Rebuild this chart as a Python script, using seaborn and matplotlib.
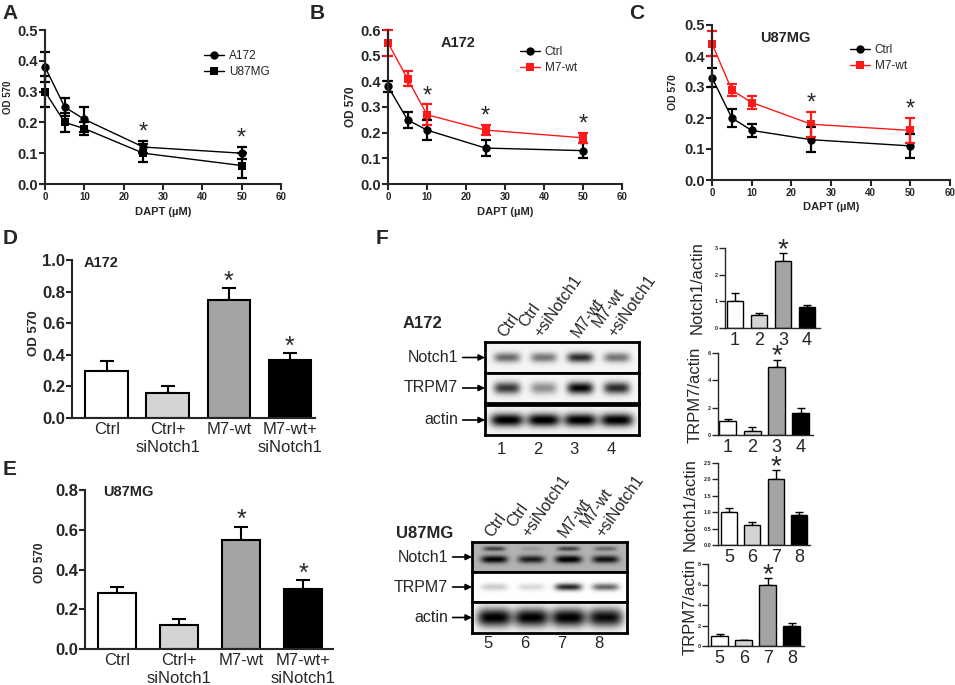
import numpy as np
import pandas as pd
import matplotlib
matplotlib.use('Agg')
import matplotlib.pyplot as plt
import seaborn as sns

# ---------------- data ----------------
dapt = [0, 5, 10, 25, 50]

a_a172 = [0.38, 0.25, 0.21, 0.12, 0.10]
a_a172_err = [0.05, 0.03, 0.04, 0.02, 0.02]
a_u87 = [0.30, 0.20, 0.18, 0.10, 0.06]
a_u87_err = [0.05, 0.03, 0.02, 0.03, 0.04]
a_stars = [25, 50]

b_ctrl = [0.38, 0.25, 0.21, 0.14, 0.13]
b_ctrl_err = [0.02, 0.03, 0.04, 0.03, 0.03]
b_m7 = [0.55, 0.41, 0.27, 0.21, 0.18]
b_m7_err = [0.05, 0.03, 0.04, 0.02, 0.02]
b_stars = [10, 25, 50]

c_ctrl = [0.33, 0.20, 0.16, 0.13, 0.11]
c_ctrl_err = [0.03, 0.03, 0.02, 0.04, 0.04]
c_m7 = [0.44, 0.29, 0.25, 0.18, 0.16]
c_m7_err = [0.04, 0.02, 0.02, 0.04, 0.04]
c_stars = [25, 50]

groups = ['Ctrl', 'Ctrl+\nsiNotch1', 'M7-wt', 'M7-wt+\nsiNotch1']
d_od = [0.30, 0.16, 0.75, 0.37]
d_err = [0.06, 0.04, 0.07, 0.04]
e_od = [0.28, 0.12, 0.55, 0.30]
e_err = [0.03, 0.03, 0.065, 0.045]
de_stars = [2, 3]

blot_lanes = ['Ctrl', 'Ctrl\n+siNotch1', 'M7-wt', 'M7-wt\n+siNotch1']
a172_notch1_band = [0.55, 0.50, 0.80, 0.50]
a172_trpm7_band = [0.75, 0.40, 0.95, 0.80]
a172_actin_band = [1.0, 1.0, 1.0, 1.0]
u87_notch1_band = [0.70, 0.60, 0.75, 0.65]
u87_notch1_upper = [0.45, 0.10, 0.45, 0.30]
u87_trpm7_band = [0.20, 0.15, 0.85, 0.60]
u87_actin_band = [1.0, 1.0, 1.0, 0.95]

lanes_a172 = ['1', '2', '3', '4']
lanes_u87 = ['5', '6', '7', '8']
f_a172_notch1 = [1.0, 0.48, 2.5, 0.78]
f_a172_notch1_err = [0.3, 0.1, 0.3, 0.07]
f_a172_trpm7 = [1.0, 0.3, 5.0, 1.6]
f_a172_trpm7_err = [0.15, 0.3, 0.5, 0.35]
f_u87_notch1 = [1.0, 0.6, 2.0, 0.92]
f_u87_notch1_err = [0.12, 0.1, 0.28, 0.1]
f_u87_trpm7 = [1.0, 0.55, 6.0, 2.0]
f_u87_trpm7_err = [0.2, 0.05, 0.6, 0.2]
f_star = 2

bar_colors = ['#ffffff', '#d4d4d4', '#a3a3a8', '#000000']

# ---------------- style ----------------
sns.set_style('ticks')
plt.rcParams['font.family'] = ['Liberation Sans', 'DejaVu Sans']
plt.rcParams['axes.linewidth'] = 1.5

W, H = 955, 685
fig = plt.figure(figsize=(W / 100, H / 100), dpi=100)


def px(x, y):
    return x / W, 1 - y / H


def axes_px(x0, y0, x1, y1):
    return fig.add_axes([x0 / W, 1 - y1 / H, (x1 - x0) / W, (y1 - y0) / H])


def ftext(x, y, s, **kw):
    fig.text(*px(x, y), s, **kw)


def line_panel(box, series, ymax, stars, leg_xy, title=None, title_xy=None,
               ylab_xy=None, ylab_size=7.5):
    ax = axes_px(*box)
    rows = []
    for name, ys, es, color, marker in series:
        for d, v in zip(dapt, ys):
            rows.append({'dose': d, 'od': v, 'group': name})
    df = pd.DataFrame(rows)
    names = [s[0] for s in series]
    sns.lineplot(data=df, x='dose', y='od', hue='group', style='group',
                 hue_order=names, style_order=names,
                 palette={s[0]: s[3] for s in series},
                 markers={s[0]: s[4] for s in series}, dashes=False,
                 markersize=6, linewidth=1, markeredgewidth=0, ax=ax)
    tops = np.zeros(len(dapt))
    for name, ys, es, color, marker in series:
        ax.errorbar(dapt, ys, yerr=es, fmt='none', ecolor=color, capsize=3.5,
                    elinewidth=1.6, capthick=1.6, clip_on=False)
        tops = np.maximum(tops, np.array(ys) + np.array(es))
    for l in ax.lines:
        l.set_clip_on(False)
    for s in stars:
        i = dapt.index(s)
        ax.annotate('*', xy=(s, tops[i]), xytext=(0, -2), textcoords='offset points',
                    ha='center', va='bottom', fontsize=17)
    ax.set_xlim(0, 60)
    ax.set_ylim(0, ymax)
    ax.set_xticks(range(0, 61, 10))
    ax.set_yticks(np.arange(0, ymax + 0.001, 0.1))
    ax.yaxis.set_major_formatter('{x:.1f}')
    ax.tick_params(axis='y', labelsize=10.5, width=1.5, length=4, pad=1)
    ax.tick_params(axis='x', labelsize=7, width=1.5, length=4, pad=2)
    for lab in ax.get_xticklabels() + ax.get_yticklabels():
        lab.set_fontweight('bold')
    ax.set_xlabel('DAPT (µM)', fontsize=8, fontweight='bold', labelpad=3)
    ax.set_ylabel('')
    sns.despine(ax=ax)
    h, lb = ax.get_legend_handles_labels()
    ax.legend(h, lb, loc='upper left', bbox_to_anchor=px(*leg_xy),
              bbox_transform=fig.transFigure, frameon=False, fontsize=8.5,
              handlelength=1.7, labelspacing=0.35, borderaxespad=0,
              handletextpad=0.4, borderpad=0)
    if title:
        ftext(*title_xy, title, fontsize=10.5, fontweight='bold', ha='center', va='center')
    ftext(*ylab_xy, 'OD 570', fontsize=ylab_size, fontweight='bold', rotation=90,
          ha='center', va='center')
    return ax


def bar_panel(box, names, vals, errs, xlim, ylim, yticks, fmt='{x:.1f}', width=0.7,
              lw=1.5, cap=5, ytick_size=12, xtick_size=12, xtick_bold=False,
              stars=(), star_size=18, star_off=-4):
    ax = axes_px(*box)
    df = pd.DataFrame({'grp': names, 'val': vals})
    sns.barplot(data=df, x='grp', y='val', hue='grp', palette=bar_colors,
                edgecolor='black', linewidth=lw, width=width, legend=False,
                errorbar=None, ax=ax)
    ax.errorbar(range(len(vals)), vals, yerr=[np.zeros(len(vals)), errs], fmt='none',
                ecolor='black', capsize=cap, elinewidth=lw, capthick=lw, zorder=0.5)
    for i in stars:
        ax.annotate('*', xy=(i, vals[i] + errs[i]), xytext=(0, star_off),
                    textcoords='offset points', ha='center', va='bottom',
                    fontsize=star_size)
    ax.set_xlim(*xlim)
    ax.set_ylim(*ylim)
    ax.set_yticks(yticks)
    ax.yaxis.set_major_formatter(fmt)
    ax.set_xlabel('')
    ax.set_ylabel('')
    ax.tick_params(axis='y', labelsize=ytick_size, width=lw, length=4, pad=1)
    ax.tick_params(axis='x', labelsize=xtick_size, length=0, pad=3)
    for lab in ax.get_yticklabels():
        lab.set_fontweight('bold')
    if xtick_bold:
        for lab in ax.get_xticklabels():
            lab.set_fontweight('bold')
    for s in ax.spines.values():
        s.set_linewidth(lw)
    sns.despine(ax=ax)
    return ax


def blot_strip(box, dark, bg=0.04, yc=0.5, hh=0.16, ww=0.36, upper=None):
    ax = axes_px(*box)
    xs = np.linspace(0.4, 4.6, 320)
    ys = np.linspace(0, 1, 60)
    img = np.full((60, 320), bg)
    lane_pos = np.arange(1, len(dark) + 1)
    for lane, d in zip(lane_pos, dark):
        img += d * np.outer(np.exp(-((ys - yc) / hh) ** 2),
                            np.exp(-((xs - lane) / ww) ** 4))
    if upper is not None:
        for lane, d in zip(lane_pos, upper):
            img += d * np.outer(np.exp(-((ys - 0.78) / 0.08) ** 2),
                                np.exp(-((xs - lane) / 0.3) ** 4))
    ax.imshow(np.clip(img, 0, 1), cmap='gray_r', vmin=0, vmax=1,
              extent=[0.4, 4.6, 0, 1], aspect='auto', origin='lower')
    ax.set_xticks([])
    ax.set_yticks([])
    for s in ax.spines.values():
        s.set_visible(True)
        s.set_linewidth(2)
        s.set_color('black')
    return ax


def row_label(ax, text, off):
    ax.annotate(text, xy=(0.0, 0.5), xycoords='axes fraction', xytext=(-off, 0),
                textcoords='offset pixels', ha='right', va='center', fontsize=11.5,
                arrowprops=dict(arrowstyle='-|>', color='black', lw=1.2,
                                mutation_scale=9, shrinkA=1, shrinkB=0))


def blot_block(x0, x1, rows, name, name_xy, lane_nums, num_y, top_y, arrow_off):
    axs = []
    for (y0, y1, text, kw) in rows:
        ax = blot_strip((x0, y0, x1, y1), **kw)
        row_label(ax, text, arrow_off)
        axs.append(ax)
    ftext(*name_xy, name, fontsize=12, fontweight='bold', ha='center', va='center')
    for i, lab in enumerate(blot_lanes):
        lx = x0 + (i + 1 - 0.4) / 4.2 * (x1 - x0)
        lines = lab.split('\n')
        n = len(lines)
        for j, ln in enumerate(lines):
            k = n - 1 - j
            ftext(lx - 2 - 15 * k, top_y - 4 - 10 * k, ln, fontsize=11.5, rotation=55,
                  rotation_mode='anchor', ha='left', va='baseline')
        ftext(lx - 6, num_y, lane_nums[i], fontsize=12, ha='center', va='center')
    return axs


# ---------------- panels A-C ----------------
line_panel((45, 30, 281, 184),
           [('A172', a_a172, a_a172_err, 'black', 'o'),
            ('U87MG', a_u87, a_u87_err, 'black', 's')],
           0.5, a_stars, (204, 50), ylab_xy=(8, 97), ylab_size=7)
line_panel((388, 30, 622, 184),
           [('Ctrl', b_ctrl, b_ctrl_err, 'black', 'o'),
            ('M7-wt', b_m7, b_m7_err, '#ff1a1a', 's')],
           0.6, b_stars, (520, 46), title='A172', title_xy=(458, 43),
           ylab_xy=(351, 107), ylab_size=8.5)
line_panel((712, 25, 950, 180),
           [('Ctrl', c_ctrl, c_ctrl_err, 'black', 'o'),
            ('M7-wt', c_m7, c_m7_err, '#ff1a1a', 's')],
           0.5, c_stars, (850, 44), title='U87MG', title_xy=(785, 38),
           ylab_xy=(673, 92), ylab_size=7.5)

# ---------------- panels D, E ----------------
axd = bar_panel((72, 260, 315, 418), groups, d_od, d_err, (-0.57, 3.41), (0, 1.0),
                np.arange(0, 1.01, 0.2), stars=de_stars)
ftext(84, 263, 'A172', fontsize=10.5, fontweight='bold', ha='left', va='center')
ftext(34, 333, 'OD 570', fontsize=9.5, fontweight='bold', rotation=90, ha='center', va='center')

axe = bar_panel((85, 490, 333, 649), groups, e_od, e_err, (-0.52, 3.48), (0, 0.8),
                np.arange(0, 0.81, 0.2), width=0.62, stars=de_stars)
ftext(103, 492, 'U87MG', fontsize=10.5, fontweight='bold', ha='left', va='center')
ftext(40, 563, 'OD 570', fontsize=8.5, fontweight='bold', rotation=90, ha='center', va='center')

# ---------------- panel F blots ----------------
blot_block(485, 639,
           [(342, 373, 'Notch1', dict(dark=a172_notch1_band)),
            (373, 403, 'TRPM7', dict(dark=a172_trpm7_band, hh=0.2)),
            (405, 435, 'actin', dict(dark=a172_actin_band, hh=0.22, ww=0.45))],
           'A172', (422, 323), lanes_a172, 450, 342, 27)
blot_block(472, 627,
           [(542, 572, 'Notch1', dict(dark=u87_notch1_band, bg=0.3, yc=0.42,
                                      hh=0.13, upper=u87_notch1_upper)),
            (572, 602, 'TRPM7', dict(dark=u87_trpm7_band, bg=0.0, hh=0.12)),
            (602, 633, 'actin', dict(dark=u87_actin_band, bg=0.02, hh=0.3, ww=0.47))],
           'U87MG', (425, 533), lanes_u87, 644, 542, 24)

# ---------------- panel F quantification ----------------
small = dict(width=0.7, lw=1.0, cap=3, ytick_size=4, xtick_size=13, star_size=20,
             star_off=-7)
bar_panel((725, 248, 820, 328), lanes_a172, f_a172_notch1, f_a172_notch1_err,
          (-0.42, 3.54), (0, 3), [0, 1, 2, 3], fmt='{x:.0f}', stars=[f_star], **small)
ftext(697, 288, 'Notch1/actin', fontsize=12, rotation=90, ha='center', va='center')
bar_panel((718, 353, 813, 435), lanes_a172, f_a172_trpm7, f_a172_trpm7_err,
          (-0.41, 3.5), (0, 6), [0, 2, 4, 6], fmt='{x:.0f}', stars=[f_star], **small)
ftext(695, 395, 'TRPM7/actin', fontsize=12, rotation=90, ha='center', va='center')
bar_panel((718, 463, 810, 545), lanes_u87, f_u87_notch1, f_u87_notch1_err,
          (-0.47, 3.47), (0, 2.5), np.arange(0, 2.51, 0.5), fmt='{x:.1f}',
          stars=[f_star], **small)
ftext(690, 505, 'Notch1/actin', fontsize=12, rotation=90, ha='center', va='center')
bar_panel((708, 564, 804, 646), lanes_u87, f_u87_trpm7, f_u87_trpm7_err,
          (-0.48, 3.5), (0, 8), [0, 2, 4, 6, 8], fmt='{x:.0f}', stars=[f_star], **small)
ftext(690, 607, 'TRPM7/actin', fontsize=12, rotation=90, ha='center', va='center')

# ---------------- panel letters ----------------
for letter, (x, y) in {'A': (2, 4), 'B': (310, 4), 'C': (629, 4), 'D': (3, 229),
                       'E': (3, 460), 'F': (376, 229)}.items():
    ftext(x, y, letter, fontsize=15, fontweight='bold', ha='left', va='top')

fig.savefig('out.png', dpi=100)
